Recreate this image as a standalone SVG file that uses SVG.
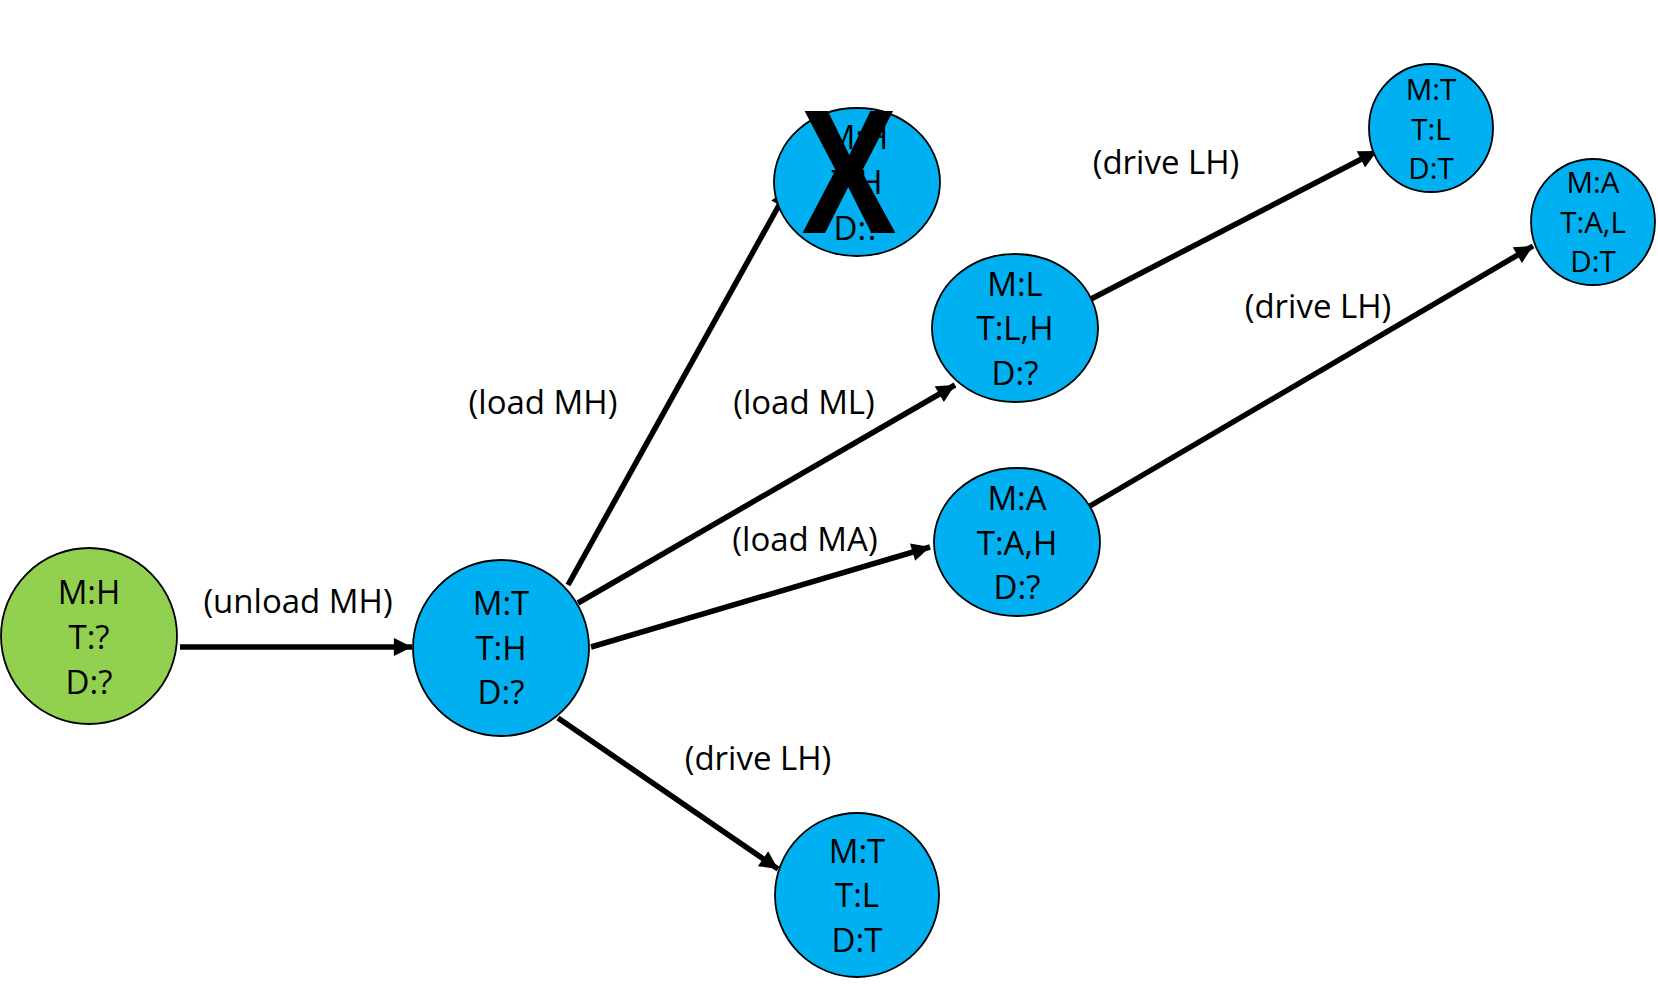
<svg xmlns="http://www.w3.org/2000/svg" width="1658" height="987" viewBox="0 0 1658 987">
<defs>
<marker id="ah" viewBox="0 0 10 10" refX="10" refY="5" markerWidth="3.6" markerHeight="3.3" markerUnits="strokeWidth" orient="auto">
<path d="M0,0 L10,5 L0,10 z" fill="#000"/>
</marker>
</defs>
<style>
.n{fill:#00B0F0;stroke:#000;stroke-width:1.8}
.g{fill:#92D050;stroke:#000;stroke-width:1.8}
.t{font-family:"Open Sans","Liberation Sans",sans-serif;font-size:33px;fill:#000;text-anchor:middle}
.s{font-family:"Open Sans","Liberation Sans",sans-serif;font-size:29.5px;fill:#000;text-anchor:middle}
.l{font-family:"Open Sans","Liberation Sans",sans-serif;font-size:33px;fill:#000;text-anchor:middle}
.e{stroke:#000;stroke-width:5.5;fill:none;marker-end:url(#ah)}
</style>
<rect width="1658" height="987" fill="#fff"/>
<g id="connectors">
<line class="e" x1="180" y1="647" x2="412" y2="647"/>
<line class="e" x1="568" y1="585" x2="788" y2="189"/>
<line class="e" x1="578" y1="603" x2="955" y2="385"/>
<line class="e" x1="591" y1="647" x2="930" y2="547"/>
<line class="e" x1="558" y1="718" x2="778" y2="869"/>
<line class="e" x1="1091" y1="299" x2="1377" y2="151"/>
<line class="e" x1="1090" y1="506" x2="1533" y2="246"/>
</g>
<g id="labels">
<text class="l" x="298" y="613">(unload MH)</text>
<text class="l" x="543" y="414">(load MH)</text>
<text class="l" x="804" y="414">(load ML)</text>
<text class="l" x="805" y="551">(load MA)</text>
<text class="l" x="758" y="770">(drive LH)</text>
<text class="l" x="1166" y="174">(drive LH)</text>
<text class="l" x="1318" y="318">(drive LH)</text>
</g>
<g id="n0">
<ellipse class="g" cx="89" cy="636" rx="88" ry="88"/>
<text class="t" x="89" y="604">M:H</text>
<text class="t" x="89" y="649">T:?</text>
<text class="t" x="89" y="694">D:?</text>
</g>
<g id="n1">
<ellipse class="n" cx="501" cy="648" rx="88" ry="88"/>
<text class="t" x="501" y="615">M:T</text>
<text class="t" x="501" y="660">T:H</text>
<text class="t" x="501" y="704">D:?</text>
</g>
<g id="n2">
<ellipse class="n" cx="857" cy="182" rx="83" ry="74"/>
<text class="t" x="857" y="149">M:H</text>
<text class="t" x="857" y="194">T:H</text>
<text class="t" x="857" y="240">D:?</text>
<text x="0" y="0" transform="translate(849,233) scale(0.82,1)" font-family="Open Sans, Liberation Sans, sans-serif" font-weight="bold" font-size="170" text-anchor="middle" fill="#000">X</text>
</g>
<g id="n3">
<ellipse class="n" cx="1015" cy="328" rx="83" ry="74"/>
<text class="t" x="1015" y="296">M:L</text>
<text class="t" x="1015" y="340">T:L,H</text>
<text class="t" x="1015" y="385">D:?</text>
</g>
<g id="n4">
<ellipse class="n" cx="1017" cy="542" rx="83" ry="74"/>
<text class="t" x="1017" y="510">M:A</text>
<text class="t" x="1017" y="555">T:A,H</text>
<text class="t" x="1017" y="599">D:?</text>
</g>
<g id="n5">
<ellipse class="n" cx="857" cy="895" rx="82" ry="82"/>
<text class="t" x="857" y="863">M:T</text>
<text class="t" x="857" y="907">T:L</text>
<text class="t" x="857" y="952">D:T</text>
</g>
<g id="n6">
<ellipse class="n" cx="1431" cy="128" rx="62" ry="64"/>
<text class="s" x="1431" y="100">M:T</text>
<text class="s" x="1431" y="140">T:L</text>
<text class="s" x="1431" y="179">D:T</text>
</g>
<g id="n7">
<ellipse class="n" cx="1593" cy="222" rx="62" ry="63"/>
<text class="s" x="1593" y="193">M:A</text>
<text class="s" x="1593" y="233">T:A,L</text>
<text class="s" x="1593" y="272">D:T</text>
</g>
</svg>
